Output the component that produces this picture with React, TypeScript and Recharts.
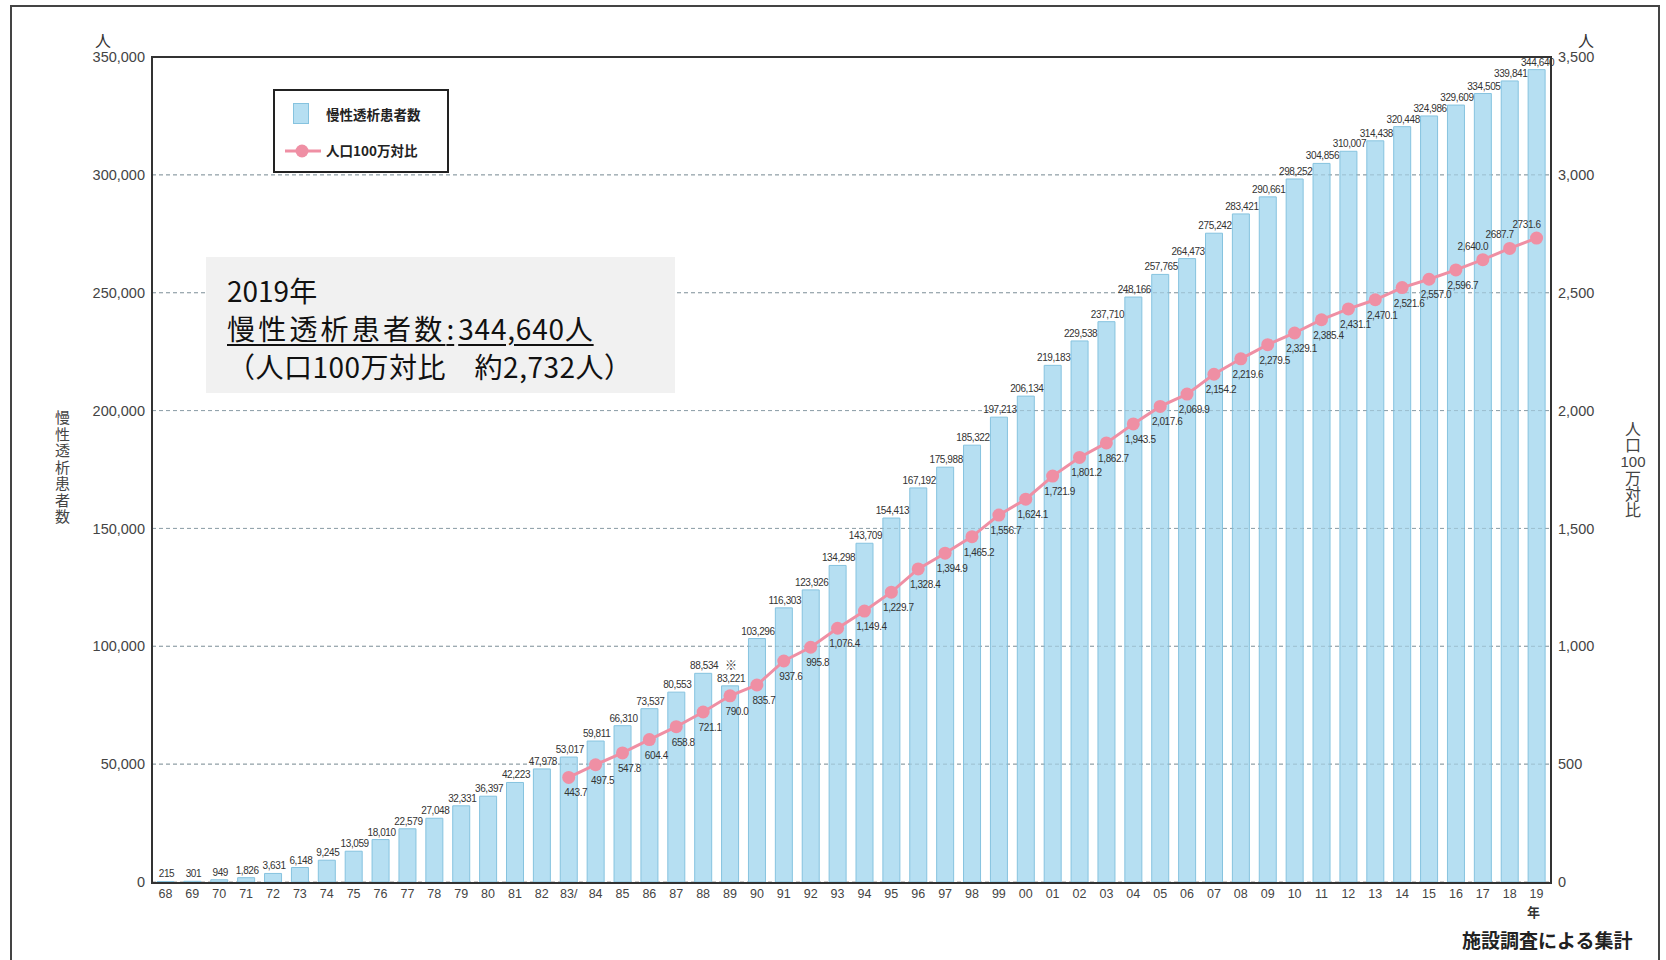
import {
  ComposedChart,
  Bar,
  Line,
  XAxis,
  YAxis,
  CartesianGrid,
  LabelList,
  ReferenceLine,
} from 'recharts';

// 年（西暦下2桁）
const years = [
  '68', '69', '70', '71', '72', '73', '74', '75', '76', '77', '78', '79', '80',
  '81', '82', '83/', '84', '85', '86', '87', '88', '89', '90', '91', '92', '93',
  '94', '95', '96', '97', '98', '99', '00', '01', '02', '03', '04', '05', '06',
  '07', '08', '09', '10', '11', '12', '13', '14', '15', '16', '17', '18', '19',
];

// 慢性透析患者数（人）
const patients = [
  215, 301, 949, 1826, 3631, 6148, 9245, 13059, 18010, 22579, 27048, 32331,
  36397, 42223, 47978, 53017, 59811, 66310, 73537, 80553, 88534, 83221, 103296,
  116303, 123926, 134298, 143709, 154413, 167192, 175988, 185322, 197213,
  206134, 219183, 229538, 237710, 248166, 257765, 264473, 275242, 283421,
  290661, 298252, 304856, 310007, 314438, 320448, 324986, 329609, 334505,
  339841, 344640,
];

// 人口100万対比（1983年から）
const ratioStartYear = '83/';
const perMillion = [
  443.7, 497.5, 547.8, 604.4, 658.8, 721.1, 790.0, 835.7, 937.6, 995.8, 1076.4,
  1149.4, 1229.7, 1328.4, 1394.9, 1465.2, 1556.7, 1624.1, 1721.9, 1801.2,
  1862.7, 1943.5, 2017.6, 2069.9, 2154.2, 2219.6, 2279.5, 2329.1, 2385.4,
  2431.1, 2470.1, 2521.6, 2557.0, 2596.7, 2640.0, 2687.7, 2731.6,
];

const leftTicks = [0, 50000, 100000, 150000, 200000, 250000, 300000, 350000];
const rightTicks = [0, 500, 1000, 1500, 2000, 2500, 3000, 3500];

const noteYear = '89'; // ※
const labelAboveFrom = '17';
const noCommaFrom = '18';

const startIdx = years.indexOf(ratioStartYear);
const data = years.map((year, i) => ({
  year,
  patients: patients[i],
  ratio: i >= startIdx ? perMillion[i - startIdx] : null,
}));

const BAR_FILL = '#b6dff2';
const BAR_STROKE = '#86c3df';
const PINK = '#ef8fa4';
const NUM_FONT = '"Liberation Sans", Arial, "Noto Sans CJK JP", sans-serif';
const JP_FONT = '"Noto Sans CJK JP", "Noto Sans", sans-serif';

const fmtInt = (v: number) => v.toLocaleString('en-US');

const BarLabel = (props: any) => {
  const { x, y, width, value, index } = props;
  const cx = x + width / 2 + 1;
  return (
    <g>
      {years[index] === noteYear && (
        <text x={cx} y={y - 16} textAnchor="middle" fontSize={12} fill="#333" fontFamily={JP_FONT}>
          ※
        </text>
      )}
      <text
        x={cx}
        y={y - 4}
        textAnchor="middle"
        fontSize={10}
        letterSpacing={-0.4}
        fill="#333"
        fontFamily={NUM_FONT}
      >
        {fmtInt(value)}
      </text>
    </g>
  );
};

const LineLabel = (props: any) => {
  const { x, y, value, index } = props;
  if (value == null) return null;
  const above = years.indexOf(labelAboveFrom) <= index;
  const plain = years.indexOf(noCommaFrom) <= index;
  const txt = plain
    ? value.toFixed(1)
    : value.toLocaleString('en-US', { minimumFractionDigits: 1, maximumFractionDigits: 1 });
  return (
    <text
      x={above ? x - 10 : x + 7}
      y={above ? y - 10 : y + 19}
      textAnchor="middle"
      fontSize={10}
      letterSpacing={-0.4}
      fill="#333"
      fontFamily={NUM_FONT}
    >
      {txt}
    </text>
  );
};

const tickStyle = { fill: '#444', fontSize: 14.5, fontFamily: NUM_FONT };

export default function App() {
  return (
    <div
      style={{
        position: 'absolute',
        left: 0,
        top: 0,
        width: 1666,
        height: 960,
        background: '#fff',
        overflow: 'hidden',
        fontFamily: JP_FONT,
      }}
    >
      {/* 外枠 */}
      <div
        style={{
          position: 'absolute',
          left: 10,
          top: 5,
          width: 1650,
          height: 1000,
          border: '2px solid #444',
          boxSizing: 'border-box',
        }}
      />

      <div style={{ position: 'absolute', left: 0, top: 0 }}>
        <ComposedChart
          width={1666}
          height={960}
          data={data}
          margin={{ top: 57, right: 56, bottom: 48, left: 92 }}
          barSize={17}
        >
          <CartesianGrid vertical={false} stroke="#9a9a9a" strokeDasharray="4 3" yAxisId="left" />
          <XAxis
            dataKey="year"
            interval={0}
            height={30}
            axisLine={false}
            tickLine={false}
            tickSize={0}
            tickMargin={7}
            tick={{ fill: '#444', fontSize: 12.5, fontFamily: NUM_FONT }}
          />
          <YAxis
            yAxisId="left"
            width={60}
            domain={[0, 350000]}
            ticks={leftTicks}
            tickFormatter={fmtInt}
            axisLine={false}
            tickLine={false}
            tickSize={0}
            tickMargin={7}
            tick={tickStyle}
          />
          <YAxis
            yAxisId="right"
            orientation="right"
            width={60}
            domain={[0, 3500]}
            ticks={rightTicks}
            tickFormatter={fmtInt}
            axisLine={false}
            tickLine={false}
            tickSize={0}
            tickMargin={8}
            tick={tickStyle}
          />
          <Bar
            yAxisId="left"
            dataKey="patients"
            fill={BAR_FILL}
            stroke={BAR_STROKE}
            strokeWidth={1}
            isAnimationActive={false}
          >
            <LabelList dataKey="patients" content={BarLabel} />
          </Bar>
          {leftTicks.slice(1, -1).map((t) => (
            <ReferenceLine
              key={t}
              yAxisId="left"
              y={t}
              stroke="#8aa9b8"
              strokeOpacity={0.6}
              strokeDasharray="4 3"
            />
          ))}
          <Line
            yAxisId="right"
            dataKey="ratio"
            stroke={PINK}
            strokeWidth={3}
            dot={{ r: 6.5, fill: PINK, stroke: PINK, strokeWidth: 0 }}
            activeDot={false}
            isAnimationActive={false}
          >
            <LabelList dataKey="ratio" content={LineLabel} />
          </Line>
        </ComposedChart>
      </div>

      {/* グラフ枠 */}
      <div
        style={{
          position: 'absolute',
          left: 151,
          top: 56,
          width: 1401,
          height: 828,
          border: '2px solid #333',
          boxSizing: 'border-box',
          pointerEvents: 'none',
        }}
      />

      {/* 単位 */}
      <div style={{ position: 'absolute', left: 95, top: 28, fontSize: 16, color: '#333' }}>人</div>
      <div style={{ position: 'absolute', left: 1578, top: 28, fontSize: 16, color: '#333' }}>人</div>
      <div style={{ position: 'absolute', left: 1527, top: 902, fontSize: 13, color: '#333', fontWeight: 700 }}>年</div>

      {/* 左軸タイトル */}
      <div
        style={{
          position: 'absolute',
          left: 52,
          top: 410,
          writingMode: 'vertical-rl',
          fontSize: 15,
          letterSpacing: 1.5,
          lineHeight: '20px',
          color: '#444',
        }}
      >
        慢性透析患者数
      </div>

      {/* 右軸タイトル */}
      <div
        style={{
          position: 'absolute',
          left: 1613,
          top: 421,
          width: 40,
          display: 'flex',
          flexDirection: 'column',
          alignItems: 'center',
          fontSize: 16,
          color: '#444',
        }}
      >
        <div style={{ writingMode: 'vertical-rl', lineHeight: '20px' }}>人口</div>
        <div style={{ fontFamily: NUM_FONT, fontSize: 15, lineHeight: '17px' }}>100</div>
        <div style={{ writingMode: 'vertical-rl', lineHeight: '20px' }}>万対比</div>
      </div>

      {/* 凡例 */}
      <div
        style={{
          position: 'absolute',
          left: 273,
          top: 89,
          width: 176,
          height: 84,
          border: '2px solid #222',
          boxSizing: 'border-box',
          background: '#fff',
        }}
      >
        <div
          style={{
            position: 'absolute',
            left: 18,
            top: 12,
            width: 16,
            height: 21,
            background: BAR_FILL,
            border: `1px solid ${BAR_STROKE}`,
            boxSizing: 'border-box',
          }}
        />
        <div style={{ position: 'absolute', left: 51, top: 13, fontSize: 13.5, fontWeight: 700, color: '#222' }}>
          慢性透析患者数
        </div>
        <svg style={{ position: 'absolute', left: 8, top: 50 }} width={40} height={20}>
          <line x1={2} y1={10} x2={38} y2={10} stroke={PINK} strokeWidth={3} />
          <circle cx={19} cy={10} r={6.5} fill={PINK} />
        </svg>
        <div style={{ position: 'absolute', left: 51, top: 49, fontSize: 13.5, fontWeight: 700, color: '#222' }}>
          人口100万対比
        </div>
      </div>

      {/* 注記ボックス */}
      <div
        style={{
          position: 'absolute',
          left: 206,
          top: 257,
          width: 469,
          height: 136,
          background: '#f1f1f1',
          boxSizing: 'border-box',
          padding: '14px 0 0 21px',
          fontSize: 28,
          lineHeight: '38px',
          color: '#111',
          whiteSpace: 'nowrap',
        }}
      >
        <div>2019年</div>
        <div style={{ textDecoration: 'underline', textUnderlineOffset: 4 }}>
          <span style={{ letterSpacing: 3.2 }}>慢性透析患者数</span>
          <span style={{ padding: '0 4px 0 1px' }}>:</span>
          <span style={{ letterSpacing: 0.8 }}>344,640人</span>
        </div>
        <div style={{ letterSpacing: 0.5 }}>（人口100万対比　約2,732人）</div>
      </div>

      {/* 出典 */}
      <div
        style={{
          position: 'absolute',
          left: 1462,
          top: 926,
          fontSize: 19,
          fontWeight: 700,
          color: '#222',
          whiteSpace: 'nowrap',
        }}
      >
        施設調査による集計
      </div>
    </div>
  );
}
